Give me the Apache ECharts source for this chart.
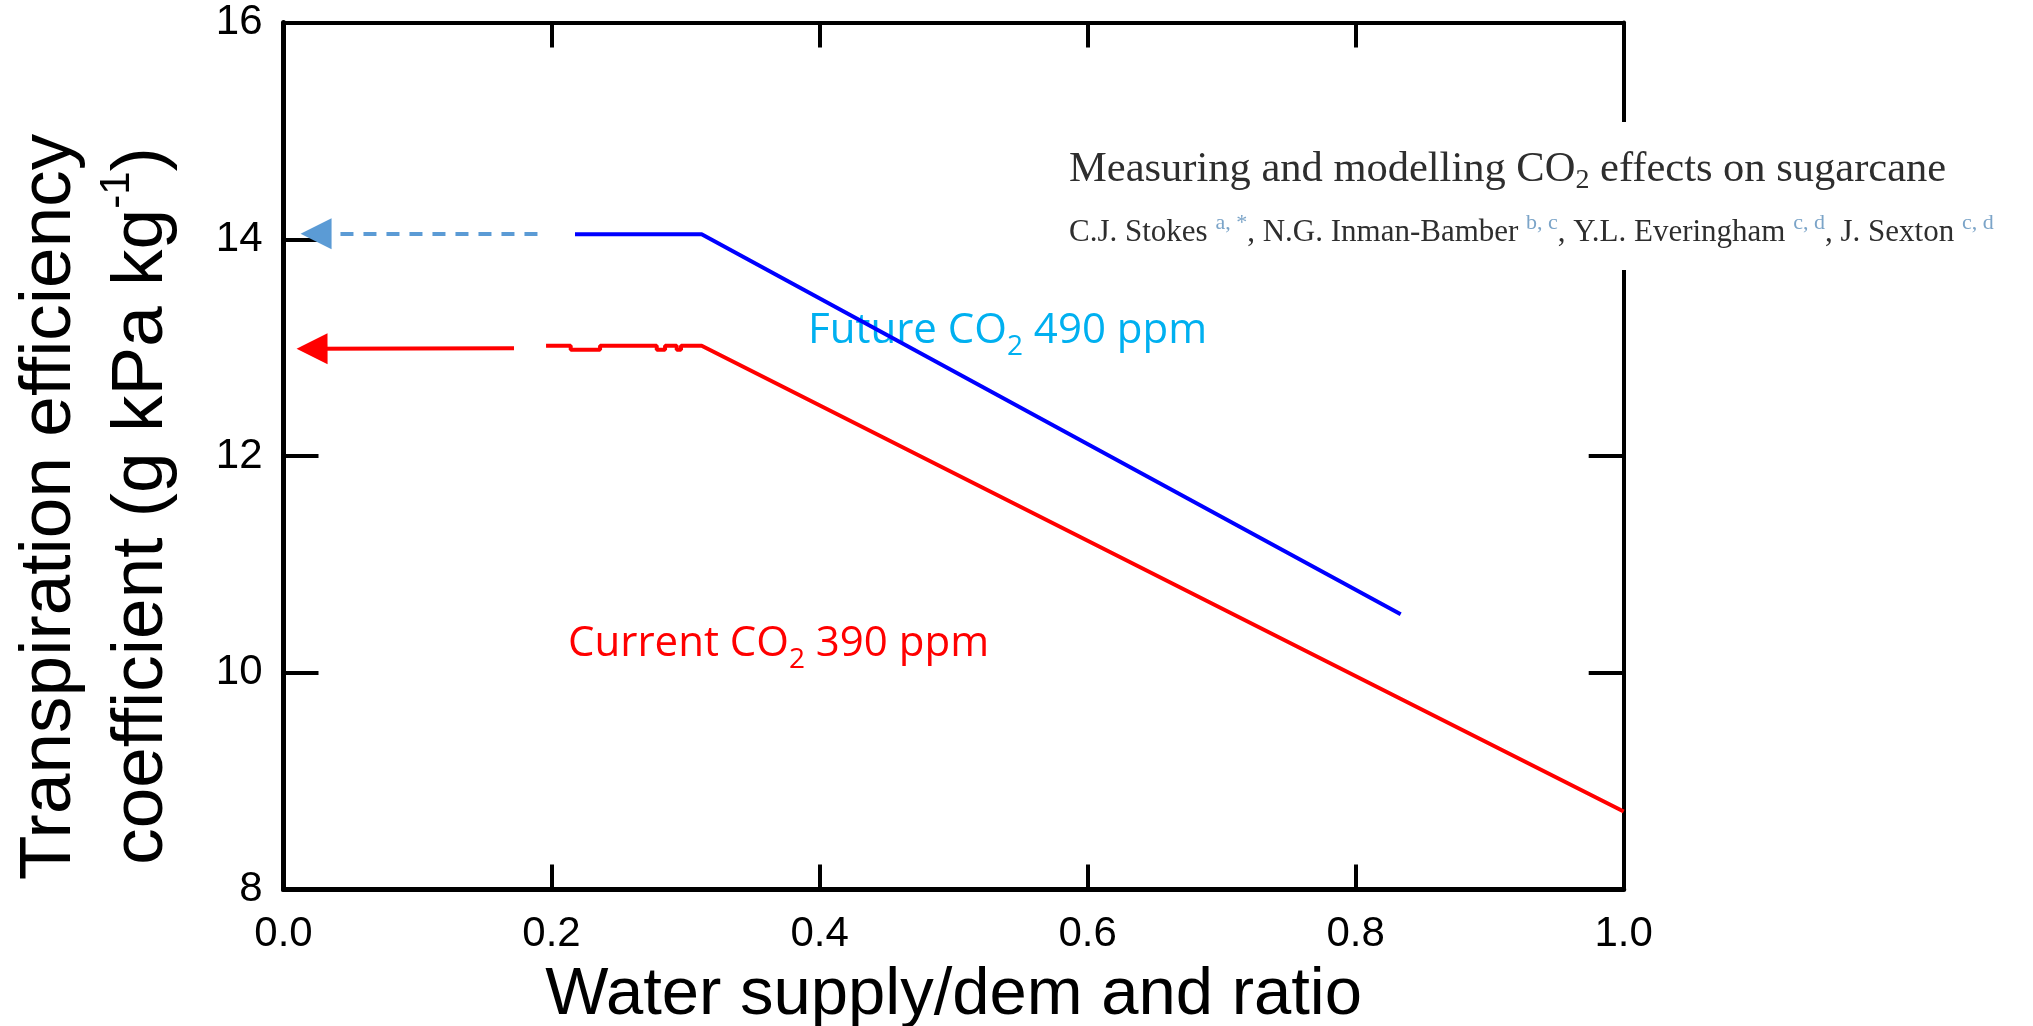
<!DOCTYPE html>
<html>
<head>
<meta charset="utf-8">
<script src="https://cdn.jsdelivr.net/npm/echarts@6/dist/echarts.min.js"></script>
<style>
  html, body { margin: 0; padding: 0; background: #ffffff; }
  #chart { width: 2033px; height: 1026px; }
</style>
</head>
<body>
<div id="chart"></div>
<script>
// Transpiration efficiency coefficient against water supply/demand ratio
const xTicks = { min: 0, max: 1, interval: 0.2 };
const yTicks = { min: 8, max: 16, interval: 2 };

// Future CO2 (490 ppm): plateau, then linear decline
const futureCurve = [
  [0.2175, 14.046],
  [0.312, 14.046],
  [0.8336, 10.54]
];

// Current CO2 (390 ppm): slightly uneven plateau, then linear decline
const currentCurve = [
  [0.1959, 13.018], [0.2143, 13.018],
  [0.2143, 12.98], [0.2362, 12.98],
  [0.2362, 13.018], [0.2785, 13.018],
  [0.2785, 12.98], [0.2847, 12.98],
  [0.2847, 13.018], [0.2934, 13.018],
  [0.2934, 12.98], [0.2966, 12.98],
  [0.2966, 13.018], [0.312, 13.018],
  [1.0, 8.72]
];

// Arrows pointing the plateau values onto the y axis
const futureArrow = [[0.1895, 14.05], [0.0243, 14.05]];
const currentArrow = [[0.172, 12.995], [0.0213, 12.99]];

const SANS = 'Liberation Sans, Arial, sans-serif';
const SERIF = 'Liberation Serif, Times New Roman, serif';
const CALI = 'Open Sans, Noto Sans, sans-serif';

const chart = echarts.init(document.getElementById('chart'), null, { renderer: 'canvas' });

const frameAxis = (w) => ({ show: true, onZero: false, lineStyle: { color: '#000', width: w } });

const option = {
  animation: false,
  backgroundColor: '#ffffff',
  grid: { left: 283.5, right: 409.3, top: 22.5, bottom: 136.5, containLabel: false, outerBoundsMode: 'none' },
  xAxis: [
    {
      type: 'value', position: 'bottom',
      min: xTicks.min, max: xTicks.max, interval: xTicks.interval,
      axisLine: frameAxis(5),
      axisTick: { show: true, inside: true, length: 25, lineStyle: { color: '#000', width: 4 } },
      axisLabel: { fontSize: 42, fontFamily: SANS, color: '#000', margin: 24, formatter: v => v.toFixed(1) },
      splitLine: { show: false },
      name: 'Water supply/dem and ratio',
      nameLocation: 'middle', nameGap: 73,
      nameTextStyle: { fontSize: 67, fontFamily: SANS, color: '#000' }
    },
    {
      type: 'value', position: 'top',
      min: xTicks.min, max: xTicks.max, interval: xTicks.interval,
      axisLine: frameAxis(4),
      axisTick: { show: true, inside: true, length: 25, lineStyle: { color: '#000', width: 4 } },
      axisLabel: { show: false },
      splitLine: { show: false }
    }
  ],
  yAxis: [
    {
      type: 'value', position: 'left',
      min: yTicks.min, max: yTicks.max, interval: yTicks.interval,
      axisLine: frameAxis(5),
      axisTick: { show: true, inside: true, length: 35, lineStyle: { color: '#000', width: 4 } },
      axisLabel: { fontSize: 42, fontFamily: SANS, color: '#000', margin: 21 },
      splitLine: { show: false }
    },
    {
      type: 'value', position: 'right',
      min: yTicks.min, max: yTicks.max, interval: yTicks.interval,
      axisLine: frameAxis(4),
      axisTick: { show: true, inside: true, length: 35, lineStyle: { color: '#000', width: 4 } },
      axisLabel: { show: false },
      splitLine: { show: false }
    }
  ],
  series: [
    {
      name: 'Future CO2 490 ppm', type: 'line',
      xAxisIndex: 0, yAxisIndex: 0,
      data: futureCurve, showSymbol: false, symbol: 'none', silent: true, z: 3,
      lineStyle: { color: '#0000FF', width: 4 }, itemStyle: { color: '#0000FF' },
      markLine: {
        silent: true, animation: false,
        symbol: ['none', 'triangle'], symbolSize: 31,
        label: { show: false },
        lineStyle: { color: '#5B9BD5', width: 4, type: [13, 10], opacity: 1 },
        itemStyle: { color: '#5B9BD5' },
        data: [[{ coord: futureArrow[0] }, { coord: futureArrow[1] }]]
      }
    },
    {
      name: 'Current CO2 390 ppm', type: 'line',
      xAxisIndex: 0, yAxisIndex: 0,
      data: currentCurve, showSymbol: false, symbol: 'none', silent: true, z: 3,
      lineStyle: { color: '#FF0000', width: 4 }, itemStyle: { color: '#FF0000' },
      markLine: {
        silent: true, animation: false,
        symbol: ['none', 'triangle'], symbolSize: 31,
        label: { show: false },
        lineStyle: { color: '#FF0000', width: 4, type: 'solid', opacity: 1 },
        itemStyle: { color: '#FF0000' },
        data: [[{ coord: currentArrow[0] }, { coord: currentArrow[1] }]]
      }
    }
  ],
  graphic: [
    // y axis title, two rotated lines
    {
      type: 'text', x: 50, y: 507, rotation: Math.PI / 2, z: 10,
      style: {
        text: 'Transpiration efficiency',
        fontSize: 73, fontFamily: SANS, fill: '#000',
        align: 'center', verticalAlign: 'middle', textAlign: 'center', textVerticalAlign: 'middle'
      }
    },
    {
      type: 'text', x: 141.5, y: 506, rotation: Math.PI / 2, z: 10,
      style: {
        text: 'coefficient (g kPa kg{sup|-1})',
        fontSize: 73, fontFamily: SANS, fill: '#000', lineHeight: 90,
        align: 'center', verticalAlign: 'middle', textAlign: 'center', textVerticalAlign: 'middle',
        rich: { sup: { fontSize: 42, fontFamily: SANS, fill: '#000', lineHeight: 67, verticalAlign: 'top' } }
      }
    },
    // curve annotations (drawn beneath the curves)
    {
      type: 'text', x: 808, y: 331, z: 1,
      style: {
        text: 'Future CO{sub|2} 490 ppm',
        fontSize: 42, fontFamily: CALI, fill: '#00B0F0', lineHeight: 60,
        align: 'left', verticalAlign: 'middle', textAlign: 'left', textVerticalAlign: 'middle',
        rich: { sub: { fontSize: 28, fontFamily: CALI, fill: '#00B0F0', lineHeight: 28, verticalAlign: 'bottom' } }
      }
    },
    {
      type: 'text', x: 568, y: 644, z: 1,
      style: {
        text: 'Current CO{sub|2} 390 ppm',
        fontSize: 42, fontFamily: CALI, fill: '#FF0000', lineHeight: 60,
        align: 'left', verticalAlign: 'middle', textAlign: 'left', textVerticalAlign: 'middle',
        rich: { sub: { fontSize: 28, fontFamily: CALI, fill: '#FF0000', lineHeight: 28, verticalAlign: 'bottom' } }
      }
    },
    // citation block on a white panel
    {
      type: 'rect', z: 50,
      shape: { x: 1058, y: 122, width: 975, height: 148 },
      style: { fill: '#ffffff' }
    },
    {
      type: 'text', x: 1069, y: 170, z: 51,
      style: {
        text: 'Measuring and modelling CO{sub|2} effects on sugarcane',
        fontSize: 42.5, fontFamily: SERIF, fill: '#2e2e2e', lineHeight: 50,
        align: 'left', verticalAlign: 'middle', textAlign: 'left', textVerticalAlign: 'middle',
        rich: { sub: { fontSize: 28, fontFamily: SERIF, fill: '#2e2e2e', lineHeight: 34, verticalAlign: 'bottom' } }
      }
    },
    {
      type: 'text', x: 1069, y: 233, z: 51,
      style: {
        text: 'C.J. Stokes {sup|a, *}, N.G. Inman-Bamber {sup|b, c}, Y.L. Everingham {sup|c, d}, J. Sexton {sup|c, d}',
        fontSize: 31, fontFamily: SERIF, fill: '#2e2e2e', lineHeight: 42,
        align: 'left', verticalAlign: 'middle', textAlign: 'left', textVerticalAlign: 'middle',
        rich: { sup: { fontSize: 22, fontFamily: SERIF, fill: '#7BA4C8', lineHeight: 28, verticalAlign: 'top' } }
      }
    }
  ]
};

chart.setOption(option);
</script>
</body>
</html>
